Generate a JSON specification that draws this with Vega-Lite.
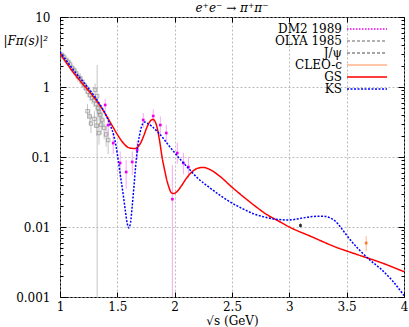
{
"$schema":"https://vega.github.io/schema/vega-lite/v6.json",
"width":344,"height":280,
"autosize":{"type":"none"},
"padding":{"left":60,"top":17,"right":5,"bottom":30},
"background":"white",
"title":{"text":"e⁺e⁻ → π⁺π⁻","font":"DejaVu Serif","fontStyle":"italic","fontSize":12,"fontWeight":"normal","color":"black","offset":-4,"anchor":"middle","frame":"group"},
"config":{
 "font":"DejaVu Serif",
 "view":{"stroke":"black","strokeWidth":1},
 "axis":{"labelFont":"DejaVu Serif","labelFontSize":12,"labelColor":"black","titleFont":"DejaVu Serif","titleFontSize":12,"titleFontWeight":"normal","titleColor":"black","domain":false,"tickColor":"black","gridColor":"#aaaaaa","gridDash":[2,2],"gridWidth":0.8},
 "legend":{"labelFont":"DejaVu Serif","labelFontSize":12,"labelColor":"black","padding":0,"rowPadding":-5,"labelLimit":200}
},
"datasets":{
 "curves":[
  {"set":"GS","x":1.0,"y":3.0},{"set":"GS","x":1.05,"y":2.3},{"set":"GS","x":1.1,"y":1.75},{"set":"GS","x":1.15,"y":1.38},{"set":"GS","x":1.2,"y":1.1},{"set":"GS","x":1.25,"y":0.88},{"set":"GS","x":1.3,"y":0.70},{"set":"GS","x":1.35,"y":0.54},{"set":"GS","x":1.4,"y":0.40},{"set":"GS","x":1.45,"y":0.29},{"set":"GS","x":1.5,"y":0.21},{"set":"GS","x":1.55,"y":0.16},{"set":"GS","x":1.6,"y":0.136},{"set":"GS","x":1.65,"y":0.132},{"set":"GS","x":1.7,"y":0.155},{"set":"GS","x":1.73,"y":0.2},{"set":"GS","x":1.76,"y":0.27},{"set":"GS","x":1.79,"y":0.33},{"set":"GS","x":1.81,"y":0.345},{"set":"GS","x":1.83,"y":0.32},{"set":"GS","x":1.85,"y":0.25},{"set":"GS","x":1.87,"y":0.165},{"set":"GS","x":1.89,"y":0.10},{"set":"GS","x":1.91,"y":0.068},{"set":"GS","x":1.93,"y":0.048},{"set":"GS","x":1.95,"y":0.037},{"set":"GS","x":1.97,"y":0.031},{"set":"GS","x":1.99,"y":0.030},{"set":"GS","x":2.02,"y":0.032},{"set":"GS","x":2.06,"y":0.039},{"set":"GS","x":2.1,"y":0.049},{"set":"GS","x":2.15,"y":0.061},{"set":"GS","x":2.2,"y":0.069},{"set":"GS","x":2.25,"y":0.071},{"set":"GS","x":2.3,"y":0.067},{"set":"GS","x":2.4,"y":0.052},{"set":"GS","x":2.5,"y":0.037},{"set":"GS","x":2.6,"y":0.027},{"set":"GS","x":2.7,"y":0.020},{"set":"GS","x":2.8,"y":0.0152},{"set":"GS","x":2.9,"y":0.0123},{"set":"GS","x":3.0,"y":0.0100},{"set":"GS","x":3.2,"y":0.0072},{"set":"GS","x":3.4,"y":0.0052},{"set":"GS","x":3.6,"y":0.0040},{"set":"GS","x":3.8,"y":0.0031},{"set":"GS","x":4.0,"y":0.0023},
  {"set":"KS","x":1.0,"y":3.16},{"set":"KS","x":1.05,"y":2.45},{"set":"KS","x":1.1,"y":1.9},{"set":"KS","x":1.15,"y":1.5},{"set":"KS","x":1.2,"y":1.2},{"set":"KS","x":1.25,"y":0.95},{"set":"KS","x":1.3,"y":0.74},{"set":"KS","x":1.35,"y":0.56},{"set":"KS","x":1.4,"y":0.40},{"set":"KS","x":1.44,"y":0.28},{"set":"KS","x":1.47,"y":0.2},{"set":"KS","x":1.49,"y":0.14},{"set":"KS","x":1.51,"y":0.085},{"set":"KS","x":1.53,"y":0.05},{"set":"KS","x":1.55,"y":0.03},{"set":"KS","x":1.57,"y":0.017},{"set":"KS","x":1.585,"y":0.0115},{"set":"KS","x":1.6,"y":0.0097},{"set":"KS","x":1.615,"y":0.0115},{"set":"KS","x":1.63,"y":0.02},{"set":"KS","x":1.645,"y":0.038},{"set":"KS","x":1.66,"y":0.075},{"set":"KS","x":1.68,"y":0.15},{"set":"KS","x":1.7,"y":0.23},{"set":"KS","x":1.72,"y":0.295},{"set":"KS","x":1.74,"y":0.315},{"set":"KS","x":1.76,"y":0.305},{"set":"KS","x":1.8,"y":0.275},{"set":"KS","x":1.85,"y":0.23},{"set":"KS","x":1.9,"y":0.185},{"set":"KS","x":1.95,"y":0.145},{"set":"KS","x":2.0,"y":0.115},{"set":"KS","x":2.05,"y":0.092},{"set":"KS","x":2.1,"y":0.075},{"set":"KS","x":2.2,"y":0.05},{"set":"KS","x":2.3,"y":0.037},{"set":"KS","x":2.4,"y":0.028},{"set":"KS","x":2.5,"y":0.022},{"set":"KS","x":2.6,"y":0.018},{"set":"KS","x":2.7,"y":0.0152},{"set":"KS","x":2.8,"y":0.0137},{"set":"KS","x":2.9,"y":0.0128},{"set":"KS","x":3.0,"y":0.0126},{"set":"KS","x":3.1,"y":0.0133},{"set":"KS","x":3.2,"y":0.0141},{"set":"KS","x":3.3,"y":0.0143},{"set":"KS","x":3.35,"y":0.0136},{"set":"KS","x":3.4,"y":0.0122},{"set":"KS","x":3.45,"y":0.0098},{"set":"KS","x":3.5,"y":0.0076},{"set":"KS","x":3.6,"y":0.0049},{"set":"KS","x":3.7,"y":0.0034},{"set":"KS","x":3.8,"y":0.0025},{"set":"KS","x":3.9,"y":0.0017},{"set":"KS","x":4.0,"y":0.00105}
 ],
 "pts":[
  {"set":"OLYA 1985","x":1.017,"y":2.87,"lo":2.5,"hi":3.2},
  {"set":"OLYA 1985","x":1.035,"y":2.68,"lo":2.35,"hi":3.0},
  {"set":"OLYA 1985","x":1.052,"y":2.43,"lo":2.1,"hi":2.75},
  {"set":"OLYA 1985","x":1.07,"y":2.28,"lo":2.0,"hi":2.6},
  {"set":"OLYA 1985","x":1.087,"y":2.13,"lo":1.85,"hi":2.45},
  {"set":"OLYA 1985","x":1.105,"y":1.87,"lo":1.6,"hi":2.15},
  {"set":"OLYA 1985","x":1.122,"y":1.75,"lo":1.5,"hi":2.0},
  {"set":"OLYA 1985","x":1.14,"y":1.58,"lo":1.35,"hi":1.85},
  {"set":"OLYA 1985","x":1.157,"y":1.39,"lo":1.18,"hi":1.62},
  {"set":"OLYA 1985","x":1.175,"y":1.34,"lo":1.12,"hi":1.58},
  {"set":"OLYA 1985","x":1.192,"y":1.18,"lo":0.98,"hi":1.4},
  {"set":"OLYA 1985","x":1.21,"y":1.07,"lo":0.88,"hi":1.28},
  {"set":"OLYA 1985","x":1.227,"y":0.97,"lo":0.8,"hi":1.16},
  {"set":"OLYA 1985","x":1.24,"y":0.45,"lo":0.35,"hi":0.57},
  {"set":"OLYA 1985","x":1.245,"y":0.85,"lo":0.7,"hi":1.02},
  {"set":"OLYA 1985","x":1.26,"y":0.38,"lo":0.29,"hi":0.48},
  {"set":"OLYA 1985","x":1.262,"y":0.77,"lo":0.63,"hi":0.93},
  {"set":"OLYA 1985","x":1.27,"y":0.30,"lo":0.22,"hi":0.39},
  {"set":"OLYA 1985","x":1.28,"y":0.70,"lo":0.57,"hi":0.85},
  {"set":"OLYA 1985","x":1.297,"y":0.65,"lo":0.52,"hi":0.8},
  {"set":"OLYA 1985","x":1.30,"y":0.35,"lo":0.26,"hi":0.45},
  {"set":"OLYA 1985","x":1.306,"y":0.91,"lo":0.72,"hi":1.12},
  {"set":"OLYA 1985","x":1.315,"y":0.57,"lo":0.45,"hi":0.71},
  {"set":"OLYA 1985","x":1.32,"y":0.28,"lo":0.2,"hi":0.37},
  {"set":"OLYA 1985","x":1.324,"y":0.74,"lo":0.001,"hi":2.06},
  {"set":"OLYA 1985","x":1.332,"y":0.50,"lo":0.39,"hi":0.63},
  {"set":"OLYA 1985","x":1.34,"y":0.22,"lo":0.15,"hi":0.3},
  {"set":"OLYA 1985","x":1.341,"y":0.44,"lo":0.33,"hi":0.56},
  {"set":"OLYA 1985","x":1.35,"y":0.40,"lo":0.3,"hi":0.51},
  {"set":"OLYA 1985","x":1.359,"y":0.29,"lo":0.21,"hi":0.38},
  {"set":"OLYA 1985","x":1.367,"y":0.34,"lo":0.25,"hi":0.44},
  {"set":"OLYA 1985","x":1.385,"y":0.26,"lo":0.18,"hi":0.35},
  {"set":"OLYA 1985","x":1.402,"y":0.21,"lo":0.14,"hi":0.29},
  {"set":"OLYA 1985","x":1.42,"y":0.175,"lo":0.11,"hi":0.25},
  {"set":"DM2 1989","x":1.394,"y":0.553,"lo":0.42,"hi":0.68},
  {"set":"DM2 1989","x":1.42,"y":0.286,"lo":0.2,"hi":0.38},
  {"set":"DM2 1989","x":1.464,"y":0.158,"lo":0.11,"hi":0.22},
  {"set":"DM2 1989","x":1.525,"y":0.082,"lo":0.05,"hi":0.12},
  {"set":"DM2 1989","x":1.577,"y":0.061,"lo":0.035,"hi":0.09},
  {"set":"DM2 1989","x":1.63,"y":0.085,"lo":0.055,"hi":0.12},
  {"set":"DM2 1989","x":1.673,"y":0.126,"lo":0.09,"hi":0.17},
  {"set":"DM2 1989","x":1.726,"y":0.338,"lo":0.26,"hi":0.425},
  {"set":"DM2 1989","x":1.813,"y":0.385,"lo":0.3,"hi":0.48},
  {"set":"DM2 1989","x":1.875,"y":0.286,"lo":0.21,"hi":0.38},
  {"set":"DM2 1989","x":1.927,"y":0.22,"lo":0.16,"hi":0.29},
  {"set":"DM2 1989","x":1.98,"y":0.025,"lo":0.001,"hi":0.077},
  {"set":"DM2 1989","x":2.023,"y":0.114,"lo":0.08,"hi":0.16},
  {"set":"DM2 1989","x":2.076,"y":0.082,"lo":0.057,"hi":0.115},
  {"set":"DM2 1989","x":2.12,"y":0.072,"lo":0.05,"hi":0.1},
  {"set":"J/ψ","x":3.097,"y":0.0105,"lo":0.0098,"hi":0.0113},
  {"set":"CLEO-c","x":3.67,"y":0.0059,"lo":0.0045,"hi":0.0074}
 ]
},
"layer":[
 {"data":{"name":"pts"},
  "mark":{"type":"rule","strokeWidth":1,"clip":true},
  "encoding":{
   "x":{"field":"x","type":"quantitative","scale":{"domain":[1,4],"nice":false,"zero":false},
        "axis":{"orient":"bottom","values":[1,1.5,2,2.5,3,3.5,4],"format":"~g","tickSize":-5,"labelPadding":9,"labelFlush":false,"labelFont":"DejaVu Serif","titleFont":"DejaVu Serif","grid":true,"title":"√s (GeV)","titleY":23,"titleBaseline":"middle"}},
   "y":{"field":"lo","type":"quantitative","scale":{"type":"log","domain":[0.001,10],"nice":false},
        "axis":{"orient":"left","values":[0.001,0.002,0.003,0.004,0.005,0.006,0.007,0.008,0.009,0.01,0.02,0.03,0.04,0.05,0.06,0.07,0.08,0.09,0.1,0.2,0.3,0.4,0.5,0.6,0.7,0.8,0.9,1,2,3,4,5,6,7,8,9,10],
                "tickSize":{"condition":{"test":"abs(log(datum.value)/LN10 - round(log(datum.value)/LN10)) < 0.01","value":-6},"value":-3},
                "labelPadding":16,"labelFlush":false,"labelFont":"DejaVu Serif","titleFont":"DejaVu Serif",
                "labelExpr":"abs(log(datum.value)/LN10 - round(log(datum.value)/LN10)) < 0.01 ? format(datum.value, '~g') : ''",
                "grid":true,
                "gridOpacity":{"condition":{"test":"abs(log(datum.value)/LN10 - round(log(datum.value)/LN10)) < 0.01","value":1},"value":0},
                "title":"|Fπ(s)|²","titleAngle":0,"titleX":-57,"titleY":23,"titleAlign":"left","titleBaseline":"middle","titleFontStyle":"italic"}},
   "y2":{"field":"hi"},
   "color":{"field":"set","type":"nominal","legend":null,
     "scale":{"domain":["DM2 1989","OLYA 1985","J/ψ","CLEO-c"],"range":["#f7a8f2","#c4c4c4","#777777","#ffb48a"]}}
  }},
 {"data":{"name":"pts"},
  "transform":[{"filter":"datum.set == 'OLYA 1985'"}],
  "mark":{"type":"point","shape":"square","filled":false,"size":12,"strokeWidth":0.8,"opacity":0.8,"clip":true},
  "encoding":{
   "x":{"field":"x","type":"quantitative","axis":null},
   "y":{"field":"y","type":"quantitative","axis":null},
   "color":{"field":"set","type":"nominal","legend":null,
     "scale":{"domain":["DM2 1989","OLYA 1985","J/ψ","CLEO-c"],"range":["#ee00ee","#888888","#222222","#ff7722"]}}
  }},
 {"data":{"name":"pts"},
  "transform":[{"filter":"datum.set != 'OLYA 1985'"}],
  "mark":{"type":"point","shape":"square","filled":true,"size":7,"opacity":1,"clip":true},
  "encoding":{
   "x":{"field":"x","type":"quantitative","axis":null},
   "y":{"field":"y","type":"quantitative","axis":null},
   "color":{"field":"set","type":"nominal","legend":null,
     "scale":{"domain":["DM2 1989","OLYA 1985","J/ψ","CLEO-c"],"range":["#ee00ee","#888888","#222222","#ff7722"]}}
  }},
 {"data":{"name":"curves"},
  "mark":{"type":"line","strokeWidth":1.5,"interpolate":"monotone","clip":true},
  "encoding":{
   "x":{"field":"x","type":"quantitative",
        "axis":{"orient":"top","values":[1,1.5,2,2.5,3,3.5,4],"tickSize":-5,"labels":false,"grid":false,"title":null}},
   "y":{"field":"y","type":"quantitative",
        "axis":{"orient":"right","values":[0.001,0.002,0.003,0.004,0.005,0.006,0.007,0.008,0.009,0.01,0.02,0.03,0.04,0.05,0.06,0.07,0.08,0.09,0.1,0.2,0.3,0.4,0.5,0.6,0.7,0.8,0.9,1,2,3,4,5,6,7,8,9,10],
                "tickSize":{"condition":{"test":"abs(log(datum.value)/LN10 - round(log(datum.value)/LN10)) < 0.01","value":-6},"value":-3},
                "labels":false,"grid":false,"title":null}},
   "color":{"field":"set","type":"nominal",
     "scale":{"domain":["DM2 1989","OLYA 1985","J/ψ","CLEO-c","GS","KS"],"range":["#ee00ee","#999999","#888888","#ffb48a","#ff0000","#0000ff"]},
     "legend":{"title":null,"orient":"none","legendX":196,"legendY":6,"padding":0,"symbolType":"M-4,0H4","symbolSize":100,"symbolStrokeWidth":1.5,"symbolOffset":105,"labelOffset":-31,"labelAlign":"right","labelFont":"DejaVu Serif","labelFontSize":12,"labelColor":"black","rowPadding":-5,"labelLimit":200}},
   "strokeDash":{"field":"set","type":"nominal",
     "scale":{"domain":["DM2 1989","OLYA 1985","J/ψ","CLEO-c","GS","KS"],"range":[[1.5,1.5],[3,2],[3,2],[1,0],[1,0],[2,1.5]]},
     "legend":{"title":null,"orient":"none","legendX":196,"legendY":6,"padding":0,"symbolType":"M-4,0H4","symbolSize":100,"symbolStrokeWidth":1.5,"symbolOffset":105,"labelOffset":-31,"labelAlign":"right","labelFont":"DejaVu Serif","labelFontSize":12,"labelColor":"black","rowPadding":-5,"labelLimit":200}}
  }}
],
"resolve":{"axis":{"x":"independent","y":"independent"},"scale":{"color":"independent","strokeDash":"independent"},"legend":{"color":"independent","strokeDash":"independent"}}
}
